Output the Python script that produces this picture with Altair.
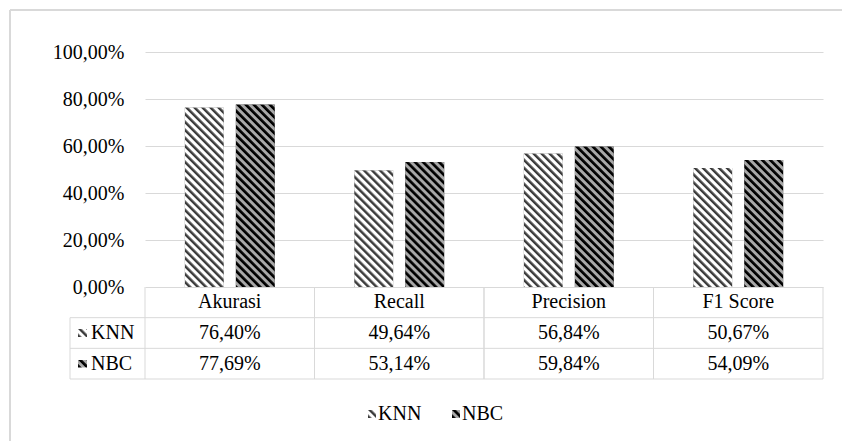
import altair as alt
import pandas as pd
from urllib.parse import quote

# ---------------- data ----------------
categories = ["Akurasi", "Recall", "Precision", "F1 Score"]
series = ["KNN", "NBC"]
knn_values = [76.40, 49.64, 56.84, 50.67]
nbc_values = [77.69, 53.14, 59.84, 54.09]
y_ticks = [0, 20, 40, 60, 80, 100]


def fmt(v):
    return f"{v:.2f}".replace(".", ",") + "%"


records = []
for s, vals in zip(series, [knn_values, nbc_values]):
    for c, v in zip(categories, vals):
        records.append({"category": c, "series": s, "value": v, "label": fmt(v)})
bars_df = pd.DataFrame(records)

header_df = pd.DataFrame({"category": categories, "row": "header", "label": categories})
values_df = bars_df.rename(columns={"series": "row"})[["category", "row", "label"]]
table_df = pd.concat([header_df, values_df], ignore_index=True)
cats_df = pd.DataFrame({"category": categories})
rows_df = pd.DataFrame({"row": series})

# ---------------- layout / style ----------------
W, H = 678, 235
TABLE_H = 92
LEFT_COL = 75
FONT = "'Liberation Serif', 'Times New Roman', Times, serif"
FS = 20
GRID = "#d9d9d9"


def hatch(bg, fg, w):
    p = 5.66
    svg = (
        "<svg xmlns='http://www.w3.org/2000/svg' width='100%' height='100%'>"
        f"<defs><pattern id='h' patternUnits='userSpaceOnUse' width='{p}' height='{p}' "
        "patternTransform='rotate(-45)'>"
        f"<rect width='{p}' height='{p}' fill='{bg}'/>"
        f"<rect width='{w}' height='{p}' fill='{fg}'/></pattern></defs>"
        "<rect width='100%' height='100%' fill='url(#h)'/></svg>"
    )
    return "data:image/svg+xml," + quote(svg)


urls = {"KNN": hatch("#ffffff", "#3c3c3c", 2.5), "NBC": hatch("#a8a8a8", "#000000", 2.7)}

xs = alt.Scale(domain=categories, paddingInner=0, paddingOuter=0)
xo = alt.Scale(domain=series, paddingInner=0.2353, paddingOuter=0.7794)
ys = alt.Scale(domain=[0, 100], nice=False)
ty = alt.Scale(domain=["header"] + series, range=[H, H + TABLE_H], paddingInner=0, paddingOuter=0)

x_enc = alt.X("category:N", sort=categories, scale=xs, axis=None)
xo_enc = alt.XOffset("series:N", sort=series, scale=xo)

y_axis = alt.Axis(
    values=y_ticks,
    labelExpr="replace(format(datum.value, '.2f'), '.', ',') + '%'",
    domain=False,
    ticks=False,
    labelPadding=21,
    labelFont=FONT,
    labelFontSize=FS,
    labelColor="#000000",
    gridColor=GRID,
    gridWidth=1,
    title=None,
)

bars = alt.Chart(bars_df).mark_bar().encode(
    x=x_enc,
    xOffset=xo_enc,
    y=alt.Y("value:Q", scale=ys, axis=y_axis),
    color=alt.Color(
        "series:N",
        sort=series,
        scale=alt.Scale(domain=series, range=["#9c9c9c", "#505050"]),
        legend=None,
    ),
)


def hatch_layer(name):
    return (
        alt.Chart(bars_df)
        .transform_filter(alt.datum.series == name)
        .mark_image(aspect=False)
        .encode(
            x=x_enc,
            xOffset=xo_enc,
            y=alt.Y("value:Q", scale=ys, axis=None),
            y2=alt.datum(0),
            url=alt.value(urls[name]),
        )
    )


table_text = alt.Chart(table_df).mark_text(font=FONT, fontSize=FS, color="#000000").encode(
    x=x_enc,
    y=alt.Y("row:N", scale=ty, axis=None),
    text="label:N",
)

row_labels = alt.Chart(rows_df).mark_text(
    font=FONT, fontSize=FS, color="#000000", align="left"
).encode(
    x=alt.value(-LEFT_COL + 21),
    y=alt.Y("row:N", scale=ty, axis=None),
    text="row:N",
)


def row_symbol(name):
    return (
        alt.Chart(rows_df)
        .transform_filter(alt.datum.row == name)
        .mark_image(aspect=False, height=8)
        .encode(
            x=alt.value(-LEFT_COL + 8),
            x2=alt.value(-LEFT_COL + 17),
            y=alt.Y("row:N", scale=ty, axis=None),
            url=alt.value(urls[name]),
        )
    )


# bottom legend (hatched symbols + labels)
LEG_Y = 362
leg_pos = {"KNN": 223, "NBC": 307}


def legend_item(name):
    x0 = leg_pos[name]
    d = rows_df[rows_df.row == name]
    sym = alt.Chart(d).mark_image(aspect=False).encode(
        x=alt.value(x0), x2=alt.value(x0 + 8),
        y=alt.value(LEG_Y - 4), y2=alt.value(LEG_Y + 4),
        url=alt.value(urls[name]),
    )
    lab = alt.Chart(d).mark_text(
        font=FONT, fontSize=FS, color="#000000", align="left", baseline="middle"
    ).encode(x=alt.value(x0 + 10), y=alt.value(LEG_Y), text="row:N")
    return sym + lab


col_lines_start = alt.Chart(cats_df).mark_rule(color=GRID, strokeWidth=1).encode(
    x=alt.X("category:N", sort=categories, scale=xs, axis=None, bandPosition=0),
    y=alt.value(H),
    y2=alt.value(H + TABLE_H),
)
col_lines_end = alt.Chart(cats_df).mark_rule(color=GRID, strokeWidth=1).encode(
    x=alt.X("category:N", sort=categories, scale=xs, axis=None, bandPosition=1),
    y=alt.value(H),
    y2=alt.value(H + TABLE_H),
)
row_lines = alt.Chart(rows_df).mark_rule(color=GRID, strokeWidth=1).encode(
    y=alt.Y("row:N", scale=ty, axis=None, bandPosition=0),
    x=alt.value(-LEFT_COL),
    x2=alt.value(W),
)
bottom_line = alt.Chart(rows_df).transform_filter(alt.datum.row == "NBC").mark_rule(
    color=GRID, strokeWidth=1
).encode(
    y=alt.Y("row:N", scale=ty, axis=None, bandPosition=1),
    x=alt.value(-LEFT_COL),
    x2=alt.value(W),
)
left_line = alt.Chart(rows_df).transform_filter(alt.datum.row == "KNN").mark_rule(
    color=GRID, strokeWidth=1
).encode(
    y=alt.Y("row:N", scale=ty, axis=None, bandPosition=0),
    y2=alt.value(H + TABLE_H),
    x=alt.value(-LEFT_COL),
)

border_top = alt.Chart(cats_df).mark_rule(color=GRID, strokeWidth=2).encode(
    x=alt.value(-135), x2=alt.value(842 - 145), y=alt.value(-42)
)
border_left = alt.Chart(cats_df).mark_rule(color=GRID, strokeWidth=2).encode(
    x=alt.value(-135), y=alt.value(-42), y2=alt.value(441 - 52)
)

chart = (
    alt.layer(
        border_top,
        border_left,
        bars,
        hatch_layer("KNN"),
        hatch_layer("NBC"),
        col_lines_start,
        col_lines_end,
        row_lines,
        bottom_line,
        left_line,
        table_text,
        row_labels,
        row_symbol("KNN"),
        row_symbol("NBC"),
        legend_item("KNN"),
        legend_item("NBC"),
    )
    .resolve_scale(y="independent")
    .properties(
        width=W,
        height=H,
        autosize=alt.AutoSizeParams(type="none"),
        padding={"left": 145, "top": 52, "right": 842 - 145 - W, "bottom": 441 - 52 - H},
        background="#ffffff",
    )
    .configure_view(strokeWidth=0)
)

chart.save("out.html", embed_options={"renderer": "svg", "actions": False})
